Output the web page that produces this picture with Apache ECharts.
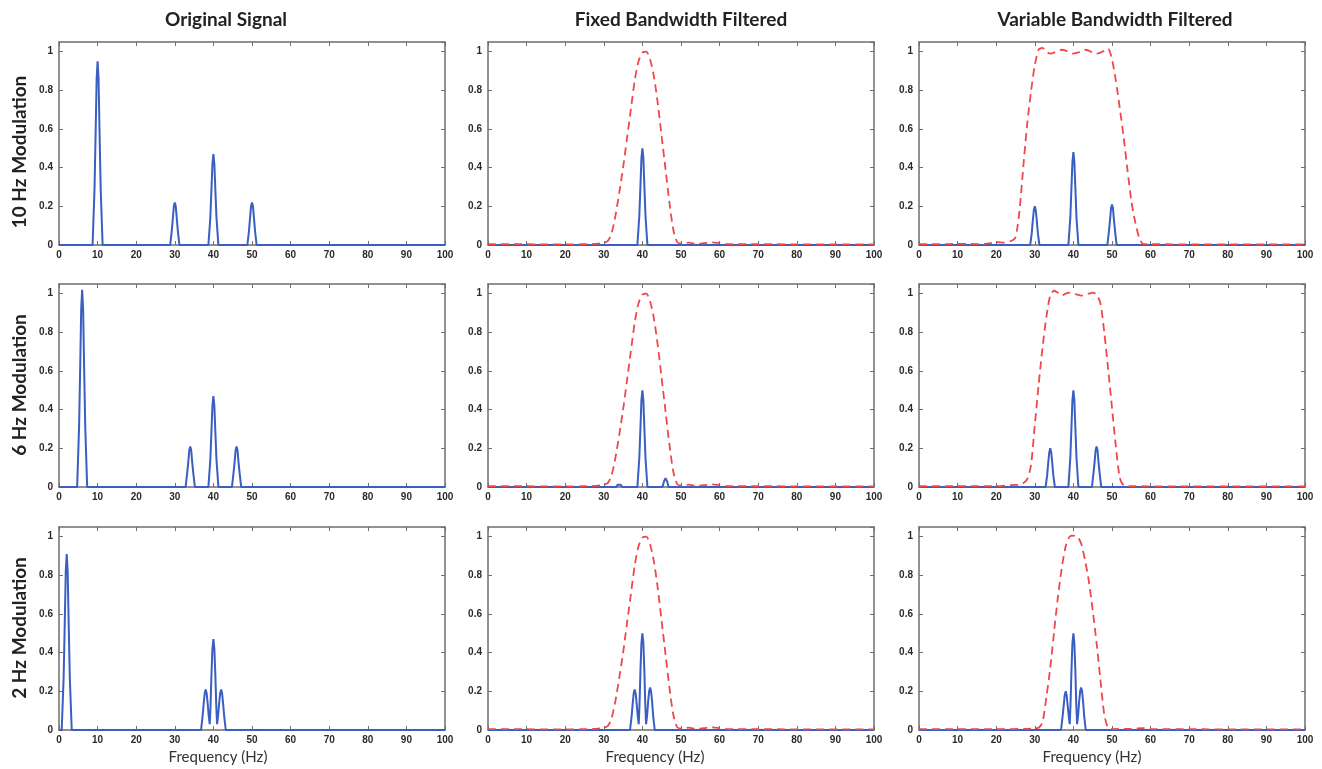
<!DOCTYPE html>
<html><head><meta charset="utf-8">
<script src="https://cdn.jsdelivr.net/npm/echarts@6/dist/echarts.min.js"></script>
<style>html,body{margin:0;padding:0;background:#fff}#c{width:1322px;height:769px}</style>
</head><body><div id="c"></div>
<script>
// ---------- data ----------
const columnTitles = ['Original Signal', 'Fixed Bandwidth Filtered', 'Variable Bandwidth Filtered'];
const rowLabels = ['10 Hz Modulation', '6 Hz Modulation', '2 Hz Modulation'];
const xAxisName = 'Frequency (Hz)';
const xRange = [0, 100];
const yRange = [0, 1.05];

// spectra (frequency Hz, magnitude)
const origSignal10 = [[0,0],[8.7,0],[9.2,0.29],[9.5,0.59],[9.75,0.86],[10,0.95],[10.25,0.86],[10.5,0.59],[10.8,0.29],[11.3,0],
  [28.8,0],[29.2,0.07],[29.5,0.14],[29.75,0.2],[30,0.22],[30.25,0.2],[30.5,0.14],[30.8,0.07],[31.2,0],
  [38.7,0],[39.2,0.14],[39.5,0.29],[39.75,0.42],[40,0.47],[40.25,0.42],[40.5,0.29],[40.8,0.14],[41.3,0],
  [48.8,0],[49.2,0.07],[49.5,0.14],[49.75,0.2],[50,0.22],[50.25,0.2],[50.5,0.14],[50.8,0.07],[51.2,0],[100,0]];
const fixedOut10 = [[0,0],[38.7,0],[39.2,0.15],[39.5,0.31],[39.75,0.45],[40,0.5],[40.25,0.45],[40.5,0.31],[40.8,0.15],[41.3,0],[100,0]];
const varOut10 = [[0,0],[28.8,0],[29.2,0.06],[29.5,0.13],[29.75,0.18],[30,0.2],[30.25,0.18],[30.5,0.13],[30.8,0.06],[31.2,0],
  [38.7,0],[39.2,0.14],[39.5,0.3],[39.75,0.43],[40,0.48],[40.25,0.43],[40.5,0.3],[40.8,0.14],[41.3,0],
  [48.8,0],[49.2,0.07],[49.5,0.13],[49.75,0.19],[50,0.21],[50.25,0.19],[50.5,0.13],[50.8,0.07],[51.2,0],[100,0]];

const origSignal6 = [[0,0],[4.7,0],[5.2,0.31],[5.5,0.63],[5.75,0.92],[6,1.02],[6.25,0.92],[6.5,0.63],[6.8,0.31],[7.3,0],
  [32.8,0],[33.2,0.07],[33.5,0.13],[33.75,0.19],[34,0.21],[34.25,0.19],[34.5,0.13],[34.8,0.07],[35.2,0],
  [38.7,0],[39.2,0.14],[39.5,0.29],[39.75,0.42],[40,0.47],[40.25,0.42],[40.5,0.29],[40.8,0.14],[41.3,0],
  [44.8,0],[45.2,0.07],[45.5,0.13],[45.75,0.19],[46,0.21],[46.25,0.19],[46.5,0.13],[46.8,0.07],[47.2,0],[100,0]];
const fixedOut6 = [[0,0],[33.2,0],[33.6,0.012],[34,0.022],[34.4,0.012],[34.8,0],
  [38.7,0],[39.2,0.15],[39.5,0.31],[39.75,0.45],[40,0.5],[40.25,0.45],[40.5,0.31],[40.8,0.15],[41.3,0],
  [45.2,0],[45.6,0.03],[46,0.045],[46.4,0.03],[46.8,0],[100,0]];
const varOut6 = [[0,0],[32.8,0],[33.2,0.06],[33.5,0.13],[33.75,0.18],[34,0.2],[34.25,0.18],[34.5,0.13],[34.8,0.06],[35.2,0],
  [38.7,0],[39.2,0.15],[39.5,0.31],[39.75,0.45],[40,0.5],[40.25,0.45],[40.5,0.31],[40.8,0.15],[41.3,0],
  [44.8,0],[45.2,0.07],[45.5,0.13],[45.75,0.19],[46,0.21],[46.25,0.19],[46.5,0.13],[46.8,0.07],[47.2,0],[100,0]];

const origSignal2 = [[0,0],[0.7,0],[1.2,0.27],[1.5,0.56],[1.75,0.82],[2,0.91],[2.25,0.82],[2.5,0.56],[2.8,0.27],[3.3,0],
  [36.8,0],[37.2,0.07],[37.5,0.14],[37.75,0.19],[38,0.21],[38.25,0.19],[38.5,0.14],[38.8,0.07],[39.05,0.03],
  [39.25,0.12],[39.5,0.29],[39.75,0.42],[40,0.47],[40.25,0.42],[40.5,0.29],[40.75,0.12],[40.95,0.03],
  [41.2,0.07],[41.5,0.14],[41.75,0.19],[42,0.21],[42.25,0.19],[42.5,0.14],[42.8,0.07],[43.2,0],[100,0]];
const fixedOut2 = [[0,0],[36.8,0],[37.2,0.07],[37.5,0.14],[37.75,0.19],[38,0.21],[38.25,0.19],[38.5,0.14],[38.8,0.07],[39.05,0.03],
  [39.25,0.13],[39.5,0.31],[39.75,0.45],[40,0.5],[40.25,0.45],[40.5,0.31],[40.75,0.13],[40.95,0.03],
  [41.2,0.07],[41.5,0.15],[41.75,0.2],[42,0.22],[42.25,0.2],[42.5,0.15],[42.8,0.07],[43.2,0],[100,0]];
const varOut2 = [[0,0],[36.8,0],[37.2,0.07],[37.5,0.13],[37.75,0.18],[38,0.2],[38.25,0.18],[38.5,0.13],[38.8,0.07],[39.05,0.03],
  [39.25,0.13],[39.5,0.31],[39.75,0.45],[40,0.5],[40.25,0.45],[40.5,0.31],[40.75,0.13],[40.95,0.03],
  [41.2,0.07],[41.5,0.15],[41.75,0.2],[42,0.22],[42.25,0.2],[42.5,0.15],[42.8,0.07],[43.2,0],[100,0]];

// filter responses (red dashed)
const fixedFilter = [[0,0.005],[10,0.004],[20,0.003],[28,0.006],[30,0.012],[31,0.02],[32,0.06],[33,0.15],[34,0.27],[35,0.4],
  [36,0.55],[37,0.7],[38,0.85],[39,0.95],[40,0.995],[41,1.0],[42,0.96],[43,0.87],[44,0.73],[45,0.56],[46,0.39],[47,0.22],
  [48,0.08],[49,0.015],[50,0.008],[52,0.012],[54,0.006],[56,0.01],[58,0.014],[60,0.01],[62,0.005],[70,0.004],[100,0.003]];
const varFilter10 = [[0,0.005],[5,0.004],[10,0.006],[15,0.005],[18,0.008],[20,0.015],[22,0.012],[24,0.022],[25,0.04],[26,0.17],
  [27,0.4],[28,0.62],[29,0.79],[30,0.93],[31,1.01],[32,1.02],[33,1.0],[34,0.99],[35,0.995],[36,1.005],[37,1.01],[38,1.005],
  [39,0.995],[40,0.99],[41,0.995],[42,1.0],[43,1.01],[44,1.005],[45,0.995],[46,0.99],[47,0.995],[48,1.005],[49,1.015],
  [50,0.96],[51,0.85],[52,0.71],[53,0.56],[54,0.39],[55,0.23],[56,0.12],[57,0.04],[58,0.006],[60,0.004],[100,0.003]];
const varFilter6 = [[0,0.004],[10,0.005],[20,0.004],[24,0.01],[26,0.012],[27,0.02],[28,0.04],[29,0.11],[30,0.32],[31,0.53],
  [32,0.72],[33,0.88],[34,0.99],[35,1.015],[36,1.005],[37,0.99],[38,1.0],[39,1.005],[40,1.0],[41,0.995],[42,0.99],[43,0.995],
  [44,1.0],[45,1.005],[46,0.995],[47,0.95],[48,0.8],[49,0.61],[50,0.41],[51,0.21],[52,0.05],[53,0.01],[55,0.004],[100,0.003]];
const varFilter2 = [[0,0.004],[10,0.005],[20,0.004],[28,0.006],[30,0.008],[31,0.012],[32,0.04],[33,0.17],[34,0.32],[35,0.51],
  [36,0.69],[37,0.84],[38,0.95],[39,1.0],[40,1.005],[41,1.0],[42,0.965],[43,0.88],[44,0.77],[45,0.62],[46,0.45],[47,0.26],
  [48,0.08],[49,0.01],[50,0.005],[55,0.006],[58,0.01],[60,0.005],[100,0.003]];

// panel layout: [row][col]
const panelSignals = [
  [origSignal10, fixedOut10, varOut10],
  [origSignal6, fixedOut6, varOut6],
  [origSignal2, fixedOut2, varOut2]
];
const panelFilters = [
  [null, fixedFilter, varFilter10],
  [null, fixedFilter, varFilter6],
  [null, fixedFilter, varFilter2]
];

// ---------- layout / style ----------
const gridLefts = [59, 488, 919];
const gridTops = [42, 284, 527];
const gridW = 386, gridH = 203;
const titleCenters = [226, 681, 1115];
const xNameCenters = [218, 655, 1092];
const rowCenters = [152, 385, 628];
const axisColor = '#6e6e6e';
const blue = '#3a5ec2';
const red = '#f04848';
const tickFont = { fontSize: 10, fontWeight: 'bold', color: '#2a2a2a', fontFamily: 'Liberation Sans, Arial, sans-serif' };

const grids = [], xAxes = [], yAxes = [], series = [];
for (let r = 0; r < 3; r++) {
  for (let c = 0; c < 3; c++) {
    const gi = r * 3 + c;
    grids.push({ left: gridLefts[c], top: gridTops[r], width: gridW, height: gridH, show: false });
    const baseX = {
      gridIndex: gi, type: 'value', min: xRange[0], max: xRange[1], interval: 10,
      axisLine: { show: true, onZero: false, lineStyle: { color: axisColor, width: 1.5 } },
      axisTick: { show: true, inside: true, length: 4, lineStyle: { color: axisColor } },
      splitLine: { show: false }
    };
    xAxes.push(Object.assign({}, baseX, { position: 'bottom',
      axisLabel: Object.assign({ margin: 5 }, tickFont) }));
    xAxes.push(Object.assign({}, baseX, { position: 'top', axisLabel: { show: false } }));
    const baseY = {
      gridIndex: gi, type: 'value', min: yRange[0], max: yRange[1], interval: 0.2,
      axisLine: { show: true, onZero: false, lineStyle: { color: axisColor, width: 1.5 } },
      axisTick: { show: true, inside: true, length: 4, lineStyle: { color: axisColor } },
      splitLine: { show: false }
    };
    yAxes.push(Object.assign({}, baseY, { position: 'left',
      axisLabel: Object.assign({ margin: 6, showMaxLabel: false,
        formatter: v => (v > 1.01 ? '' : String(Math.round(v * 10) / 10)) }, tickFont) }));
    yAxes.push(Object.assign({}, baseY, { position: 'right', axisLabel: { show: false } }));

    series.push({
      type: 'line', xAxisIndex: gi * 2, yAxisIndex: gi * 2, data: panelSignals[r][c],
      showSymbol: false, animation: false, lineStyle: { color: blue, width: 2 }, z: 3
    });
    if (panelFilters[r][c]) {
      series.push({
        type: 'line', xAxisIndex: gi * 2, yAxisIndex: gi * 2, data: panelFilters[r][c],
        showSymbol: false, animation: false, smooth: 0.25,
        lineStyle: { color: red, width: 1.8, type: [8, 5] }, z: 4
      });
    }
  }
}

const graphics = [];
columnTitles.forEach((t, i) => graphics.push({
  type: 'text', x: titleCenters[i], y: 20,
  style: { text: t, font: 'bold 19px Lato, "Open Sans", sans-serif', fill: '#222', textAlign: 'center', textVerticalAlign: 'middle' }
}));
rowLabels.forEach((t, i) => graphics.push({
  type: 'text', x: 20, y: rowCenters[i], rotation: Math.PI / 2,
  style: { text: t, font: 'bold 19px Lato, "Open Sans", sans-serif', fill: '#222', textAlign: 'center', textVerticalAlign: 'middle' }
}));
xNameCenters.forEach(cx => graphics.push({
  type: 'text', x: cx, y: 757,
  style: { text: xAxisName, font: '15px Lato, "Open Sans", sans-serif', fill: '#333', textAlign: 'center', textVerticalAlign: 'middle' }
}));

const chart = echarts.init(document.getElementById('c'), null, { renderer: 'canvas' });
chart.setOption({
  animation: false,
  backgroundColor: '#fff',
  grid: grids, xAxis: xAxes, yAxis: yAxes, series: series,
  graphic: graphics
});
</script>
</body></html>
